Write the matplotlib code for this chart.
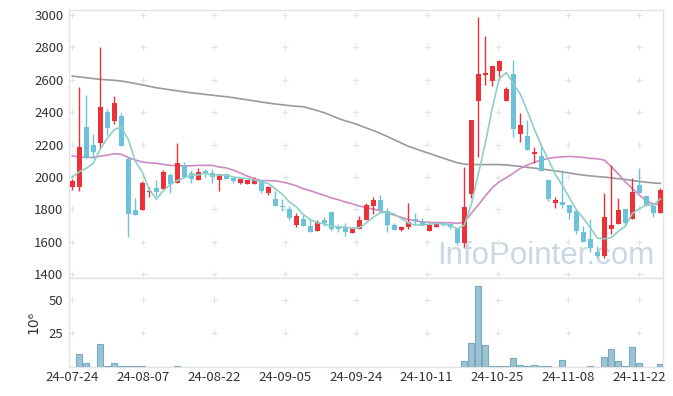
import numpy as np
import pandas as pd
import matplotlib
matplotlib.use("Agg")
import matplotlib.pyplot as plt

plt.rcParams['font.family'] = ['Noto Sans CJK KR', 'DejaVu Sans']

# ---------------- data ----------------
opens = [1936, 1940, 2307, 2198, 2212, 2399, 2348, 2377, 2113, 1796,
         1796, 1905, 1932, 1924, 2014, 1961, 2068, 2023, 1980, 2035,
         2023, 1983, 2019, 1996, 1963, 1957, 1957, 1981, 1899, 1862,
         1821, 1800, 1704, 1739, 1698, 1669, 1735, 1784, 1694, 1685,
         1652, 1679, 1735, 1821, 1858, 1790, 1704, 1673, 1689, 1739,
         1724, 1669, 1689, 1714, 1708, 1677, 1595, 1893, 2471, 2628,
         2594, 2656, 2471, 2636, 2264, 2253, 2144, 2131, 1981, 1838,
         1846, 1827, 1790, 1660, 1615, 1537, 1512, 1681, 1708, 1800,
         1739, 1951, 1883, 1821, 1780]
closes = [1975, 2183, 2119, 2156, 2430, 2305, 2457, 2191, 1773, 1767,
          1961, 1915, 1907, 2029, 1957, 2085, 2002, 1990, 2031, 2019,
          2002, 2019, 1988, 1975, 1988, 1981, 1981, 1916, 1936, 1821,
          1815, 1749, 1759, 1700, 1663, 1720, 1714, 1681, 1679, 1663,
          1679, 1735, 1827, 1858, 1796, 1704, 1673, 1691, 1722, 1730,
          1700, 1704, 1710, 1704, 1689, 1595, 1813, 2352, 2636, 2644,
          2685, 2716, 2543, 2298, 2321, 2165, 2154, 2039, 1866, 1858,
          1829, 1776, 1669, 1601, 1562, 1512, 1751, 1704, 1796, 1718,
          1907, 1899, 1821, 1780, 1920]
highs = [1988, 2554, 2504, 2264, 2804, 2420, 2500, 2397, 2125, 1868,
         1978, 1940, 1981, 2041, 2027, 2208, 2093, 2043, 2056, 2052,
         2052, 2019, 2027, 1996, 1988, 1981, 2002, 1981, 1944, 1916,
         1866, 1821, 1776, 1765, 1741, 1733, 1755, 1784, 1708, 1714,
         1694, 1761, 1838, 1875, 1887, 1811, 1716, 1698, 1838, 1776,
         1745, 1710, 1710, 1722, 1710, 1687, 2064, 2352, 2986, 2870,
         2685, 2722, 2553, 2722, 2397, 2350, 2185, 2193, 1981, 1879,
         2043, 1827, 1790, 1700, 1739, 1575, 1903, 2074, 1868, 1800,
         1996, 2054, 1883, 1821, 1930]
lows = [1922, 1912, 2119, 2115, 2180, 2259, 2329, 2191, 1628, 1767,
        1796, 1875, 1880, 1924, 1899, 1961, 2002, 1961, 1980, 2002,
        1961, 1916, 1988, 1965, 1955, 1957, 1957, 1903, 1887, 1821,
        1792, 1735, 1694, 1700, 1663, 1669, 1700, 1670, 1663, 1636,
        1652, 1679, 1735, 1770, 1780, 1663, 1673, 1668, 1681, 1704,
        1700, 1669, 1689, 1698, 1680, 1580, 1566, 1870, 2125, 2568,
        2562, 2617, 2471, 2245, 2216, 2165, 2089, 2039, 1850, 1811,
        1811, 1741, 1650, 1601, 1540, 1500, 1500, 1648, 1708, 1700,
        1739, 1899, 1821, 1755, 1780]
# volume in millions of shares
volumes = [0, 9.4, 3.2, 0, 17.3, 1.0, 3.2, 0.5, 0.5, 0.5,
           0.5, 0, 0, 0, 0, 1.0, 0, 0, 0, 0,
           0, 0, 0, 0, 0, 0, 0, 0, 0, 0,
           0, 0, 0, 0, 0, 0, 0, 0, 0, 0,
           0, 0, 0, 0, 0, 0, 0, 0, 0, 0,
           0, 0, 0, 0, 0, 0, 4.7, 18.1, 59.9, 16.6,
           1.0, 1.0, 1.0, 6.9, 1.7, 1.0, 1.7, 1.0, 1.0, 0.3,
           5.4, 0.3, 0.3, 0.3, 1.0, 0.3, 7.7, 13.6, 4.7, 1.0,
           15.1, 3.2, 0.3, 0.3, 2.5]
# closes of the four sessions before the first shown (for the 5-day average)
prior_closes = [2018, 2014, 2001, 1992]
ma20 = [2131, 2125, 2121, 2121, 2129, 2135, 2144, 2140, 2121, 2105,
        2093, 2088, 2085, 2078, 2072, 2070, 2068, 2070, 2072, 2072,
        2072, 2062, 2056, 2043, 2025, 2006, 1990, 1978, 1978, 1977,
        1969, 1959, 1946, 1928, 1916, 1901, 1887, 1872, 1860, 1846,
        1835, 1821, 1811, 1802, 1792, 1780, 1765, 1751, 1738, 1730,
        1724, 1720, 1720, 1718, 1718, 1714, 1720, 1776, 1827, 1883,
        1934, 1971, 1996, 2023, 2054, 2074, 2091, 2105, 2115, 2121,
        2125, 2127, 2125, 2121, 2115, 2113, 2105, 2064, 2019, 1971,
        1930, 1889, 1854, 1833, 1831]
ma120 = [2623, 2618, 2613, 2608, 2603, 2600, 2597, 2593, 2585, 2577,
         2569, 2560, 2551, 2545, 2538, 2532, 2526, 2520, 2515, 2510,
         2505, 2500, 2496, 2490, 2483, 2477, 2470, 2463, 2457, 2451,
         2446, 2441, 2437, 2434, 2423, 2410, 2397, 2380, 2362, 2347,
         2335, 2320, 2303, 2287, 2270, 2250, 2230, 2210, 2190, 2175,
         2160, 2146, 2131, 2117, 2102, 2088, 2080, 2077, 2077, 2077,
         2077, 2077, 2075, 2070, 2066, 2060, 2055, 2050, 2044, 2038,
         2032, 2025, 2018, 2012, 2007, 2003, 2000, 1995, 1990, 1985,
         1979, 1973, 1968, 1964, 1961]
date_labels = ['24-07-24', '24-08-07', '24-08-22', '24-09-05', '24-09-24',
               '24-10-11', '24-10-25', '24-11-08', '24-11-22']
price_ticks = [1400, 1600, 1800, 2000, 2200, 2400, 2600, 2800, 3000]
volume_ticks = [25, 50]

# ---------------- derived ----------------
o = np.array(opens, float)
c = np.array(closes, float)
h = np.array(highs, float)
l = np.array(lows, float)
v = np.array(volumes, float)
n = len(c)
x = np.arange(n)
ma5 = pd.Series(prior_closes + closes).rolling(5).mean().values[len(prior_closes):]

RED = '#ec3238'
BLUE = '#6cc3d9'
GRID = '#e3e3e3'
TXT = '#333333'

fig = plt.figure(figsize=(6.73, 3.96), dpi=100)
L, W = 69 / 673, 594 / 673
ax = fig.add_axes([L, 1 - 278 / 396, W, 268 / 396])
axv = fig.add_axes([L, 1 - 367 / 396, W, 89 / 396], sharex=ax)

up = c >= o
colors = np.where(up, RED, BLUE)
body_lo = np.minimum(o, c)
body_h = np.maximum(np.abs(c - o), 3)
ax.vlines(x, l, h, colors=colors, linewidth=1.0, zorder=3)
ax.bar(x, body_h, bottom=body_lo, width=0.72, color=colors, linewidth=0, zorder=4)

ax.plot(x, ma120, color='#9a9a9a', lw=1.2, zorder=2)
ax.plot(x, ma20, color='#cf8ac6', lw=1.2, zorder=2)
ax.plot(x, ma5, color='#8fcfc5', lw=1.2, zorder=5)

xlim = (-0.47, 84.39)
ax.set_xlim(*xlim)
ax.set_ylim(1377, 3031)
xt = np.arange(len(date_labels)) * 10.125

# grid "+" marks
gx, gy = np.meshgrid(xt, price_ticks)
ax.scatter(gx.ravel(), gy.ravel(), marker='+', s=16, color=GRID, linewidths=0.8, zorder=1)
ax.set_yticks(price_ticks)
ax.set_yticklabels([str(t) for t in price_ticks])
ax.tick_params(axis='y', length=0, pad=4, labelsize=9.5, labelcolor=TXT)
ax.tick_params(axis='x', length=0, labelbottom=False)

ax.text(0.803, 0.082, 'InfoPointer.com', transform=ax.transAxes, ha='center', va='center',
        fontsize=22.5, color='#c9d8e4', family='Liberation Sans', zorder=0)

# volume
axv.bar(x, v, width=0.88, color='#9cc3d3', edgecolor='#7aa9c0', linewidth=0.8, zorder=3)
axv.set_ylim(0, 66)
gx2, gy2 = np.meshgrid(xt, volume_ticks)
axv.scatter(gx2.ravel(), gy2.ravel(), marker='+', s=16, color=GRID, linewidths=0.8, zorder=1)
axv.set_yticks(volume_ticks)
axv.set_yticklabels([str(t) for t in volume_ticks])
axv.set_xticks(xt)
axv.set_xticklabels(date_labels)
axv.tick_params(axis='both', length=0, labelsize=9.5, labelcolor=TXT)
axv.tick_params(axis='y', pad=4)
axv.tick_params(axis='x', pad=3)
axv.set_ylabel('10\u2076', fontsize=10, color=TXT, family='DejaVu Sans', labelpad=6)

for a in (ax, axv):
    for s in a.spines.values():
        s.set_color(GRID)
        s.set_linewidth(1.0)
    a.set_facecolor('white')

fig.savefig('out.png', dpi=100)
